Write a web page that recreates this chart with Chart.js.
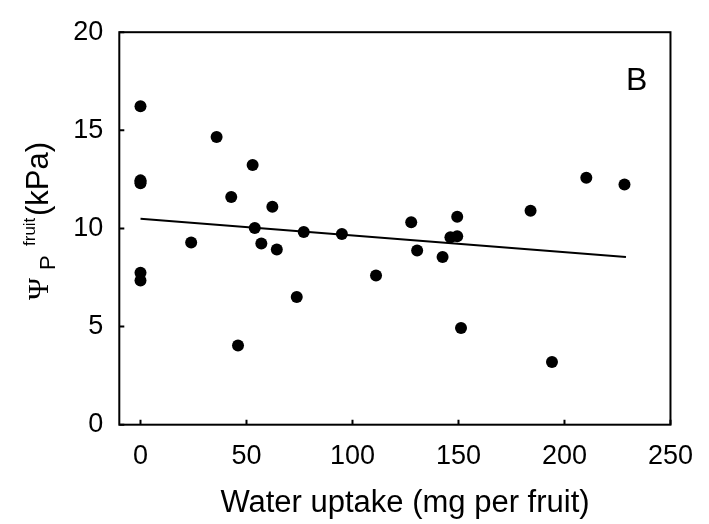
<!DOCTYPE html>
<html>
<head>
<meta charset="utf-8">
<script src="https://cdn.jsdelivr.net/npm/chart.js@4.4.1/dist/chart.umd.min.js"></script>
<style>
  body { margin: 0; background: #fff; }
  canvas { display: block; }
</style>
</head>
<body>
<canvas id="chart" width="709" height="524"></canvas>
<script>
// water uptake (mg per fruit) vs fruit turgor pressure (kPa)
const uptake = [0, 0, 0, 0, 0, 0, 35.9, 52.9, 42.8, 62.2, 53.9, 23.9, 57.0, 64.3, 77.0, 95.0,
    111.1, 73.7, 46.0, 127.7, 130.5, 142.5, 146.2, 149.4, 149.4, 151.2, 184.0, 194.1, 210.3, 228.3];
const turgor = [16.23, 12.45, 12.3, 7.74, 7.35, 12.38, 14.66, 13.23, 11.6, 11.1, 10.02, 9.28, 9.23, 8.93, 9.82, 9.72,
    7.6, 6.51, 4.04, 10.31, 8.88, 8.54, 9.55, 9.6, 10.6, 4.93, 10.9, 3.2, 12.58, 12.24];

// linear fit end points
const fitX = [0, 229];
const fitY = [10.5, 8.55];

const xTicks = [0, 50, 100, 150, 200, 250];
const yTicks = [0, 5, 10, 15, 20];

const FONT = "'Liberation Sans', Arial, sans-serif";
const SERIF = "'Liberation Serif', 'Times New Roman', serif";

const points = uptake.map((x, i) => ({ x: x, y: turgor[i] }));
const fitLine = fitX.map((x, i) => ({ x: x, y: fitY[i] }));

// box around the plot area with inward tick marks
const framePlugin = {
    id: "frame",
    afterDraw(chart) {
        const ctx = chart.ctx;
        const a = chart.chartArea;
        const xs = chart.scales.x;
        const ys = chart.scales.y;
        ctx.save();
        ctx.strokeStyle = "#000";
        ctx.lineWidth = 2;
        ctx.strokeRect(a.left, a.top, a.right - a.left, a.bottom - a.top);
        ctx.beginPath();
        xTicks.forEach((v) => {
            const px = xs.getPixelForValue(v);
            ctx.moveTo(px, a.bottom);
            ctx.lineTo(px, a.bottom - 5);
        });
        yTicks.forEach((v) => {
            const py = ys.getPixelForValue(v);
            ctx.moveTo(a.left, py);
            ctx.lineTo(a.left + 5, py);
        });
        ctx.stroke();
        ctx.restore();
    },
};

// axis titles and panel letter
const titlePlugin = {
    id: "titles",
    afterDraw(chart) {
        const ctx = chart.ctx;
        ctx.save();
        ctx.fillStyle = "#000";
        ctx.textBaseline = "alphabetic";

        ctx.font = "31px " + FONT;
        ctx.textAlign = "center";
        ctx.fillText("Water uptake (mg per fruit)", 405, 512);

        ctx.textAlign = "left";
        ctx.font = "32px " + FONT;
        ctx.fillText("B", 626, 90);

        // rotated y title: Psi, subscript P, superscript fruit, (kPa)
        ctx.translate(48, 300);
        ctx.rotate(-Math.PI / 2);
        ctx.font = "30px " + SERIF;
        ctx.fillText("\u03A8", 0, 0);
        ctx.font = "22px " + FONT;
        ctx.fillText("P", 30, 7);
        ctx.font = "17px " + FONT;
        ctx.fillText("fruit", 54, -13);
        ctx.font = "31px " + FONT;
        ctx.fillText("(kPa)", 84, 0);
        ctx.restore();
    },
};

new Chart(document.getElementById("chart"), {
    type: "scatter",
    data: {
        datasets: [
            {
                data: points,
                pointRadius: 6,
                pointBackgroundColor: "#000",
                pointBorderWidth: 0,
            },
            {
                data: fitLine,
                showLine: true,
                pointRadius: 0,
                borderColor: "#000",
                borderWidth: 2,
            },
        ],
    },
    options: {
        responsive: false,
        animation: false,
        layout: { padding: { top: 20, right: 27.3, left: 0, bottom: 0 } },
        plugins: {
            legend: { display: false },
            tooltip: { enabled: false },
        },
        scales: {
            x: {
                type: "linear",
                min: -10,
                max: 250,
                afterBuildTicks: (scale) => {
                    scale.ticks = xTicks.map((v) => ({ value: v }));
                },
                afterFit: (scale) => {
                    scale.height = 99.3;
                },
                grid: { display: false, drawTicks: false },
                border: { display: false },
                ticks: {
                    color: "#000",
                    font: { family: FONT, size: 27 },
                    padding: 16,
                    maxRotation: 0,
                },
            },
            y: {
                min: 0,
                max: 20,
                afterBuildTicks: (scale) => {
                    scale.ticks = yTicks.map((v) => ({ value: v }));
                },
                afterFit: (scale) => {
                    scale.width = 119.3;
                },
                grid: { display: false, drawTicks: false },
                border: { display: false },
                ticks: {
                    color: "#000",
                    font: { family: FONT, size: 27 },
                    padding: 16,
                },
            },
        },
    },
    plugins: [framePlugin, titlePlugin],
});
</script>
</body>
</html>
